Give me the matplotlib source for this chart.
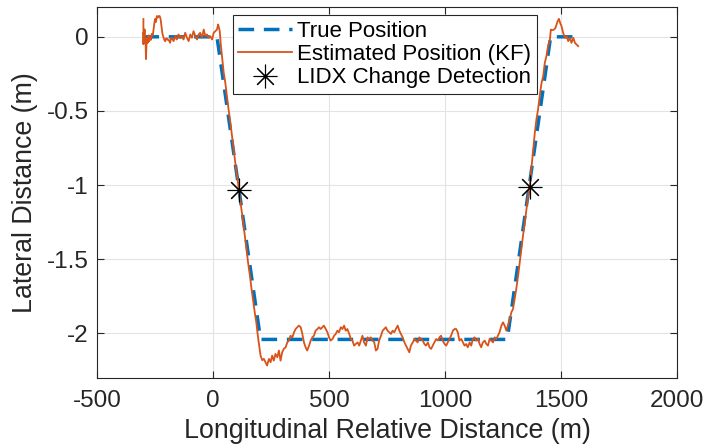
import matplotlib
matplotlib.use("Agg")
import matplotlib.pyplot as plt

plt.rcParams['font.family'] = ['Liberation Sans', 'DejaVu Sans']
plt.rcParams['axes.unicode_minus'] = False

# reference lane-change trajectory
true_x = [-300, 17, 205, 1268, 1455, 1574]
true_y = [0, 0, -2.04, -2.04, 0, 0]

# Kalman filter estimate
est_x = [-300, -300, -299, -297, -295, -293, -291, -289, -287, -284, -281, -278, -275, -271,
         -267, -264, -260, -257, -253, -250, -246, -242, -238, -234, -230, -226, -222, -218,
         -214, -210, -206, -202, -199, -195, -192, -188, -185, -181, -178, -170, -163, -156,
         -149, -141, -134, -127, -120, -112, -105, -98, -91, -84, -76, -69, -62, -55, -48,
         -40, -33, -26, -19, -12, -4, 3, 10, 17, 22, 26, 29, 34, 40, 46, 53, 60, 67, 75, 82,
         89, 95, 100, 106, 111, 117, 122, 130, 137, 144, 151, 159, 166, 174, 181, 187, 192,
         197, 205, 212, 219, 226, 233, 241, 248, 255, 262, 269, 277, 284, 291, 298, 305, 313,
         320, 327, 334, 342, 349, 356, 363, 370, 378, 385, 392, 399, 406, 414, 421, 428, 435,
         442, 450, 457, 464, 471, 478, 486, 493, 500, 507, 515, 522, 529, 536, 543, 551, 558,
         565, 572, 579, 587, 594, 601, 608, 615, 623, 630, 637, 644, 651, 659, 666, 673, 680,
         688, 695, 702, 709, 716, 724, 731, 738, 745, 752, 760, 767, 774, 781, 788, 796, 803,
         810, 817, 825, 832, 839, 846, 853, 861, 868, 875, 882, 889, 897, 904, 911, 918, 926,
         933, 940, 947, 954, 962, 969, 976, 983, 990, 998, 1005, 1012, 1019, 1026, 1034, 1041,
         1048, 1055, 1062, 1070, 1077, 1084, 1091, 1098, 1106, 1113, 1120, 1127, 1135, 1142,
         1149, 1156, 1163, 1171, 1178, 1185, 1192, 1199, 1207, 1214, 1221, 1228, 1235, 1243,
         1250, 1257, 1264, 1271, 1279, 1286, 1293, 1300, 1307, 1315, 1322, 1329, 1336, 1344,
         1351, 1358, 1365, 1372, 1380, 1387, 1394, 1401, 1408, 1416, 1423, 1430, 1437, 1444,
         1452, 1456, 1462, 1470, 1476, 1485, 1491, 1496, 1502, 1509, 1517, 1524, 1531, 1538,
         1545, 1553, 1560, 1567, 1574]
est_y = [0.12, -0.05, 0.03, -0.02, 0.05, -0.04, -0.01, -0.15, -0.06, -0.01, -0.04, 0.01, -0.03,
         0.00, -0.02, 0.02, 0.01, 0.04, 0.09, 0.12, 0.10, 0.14, 0.13, 0.14, 0.14, 0.12, 0.07,
         0.02, 0.00, -0.02, -0.03, -0.01, -0.01, -0.02, -0.02, -0.03, -0.04, -0.01, -0.007,
         -0.029, 0.004, -0.018, 0.016, -0.007, 0.004, -0.018, 0.027, -0.007, -0.029, 0.016,
         -0.007, 0.038, 0.004, -0.018, 0.016, 0.027, -0.007, 0.049, 0.004, 0.016, -0.007,
         0.004, -0.018, 0.027, 0.038, 0.049, 0.083, 0.06, 0.038, -0.06, -0.15, -0.24, -0.31,
         -0.40, -0.49, -0.58, -0.67, -0.76, -0.84, -0.90, -0.96, -1.03, -1.10, -1.16, -1.25,
         -1.34, -1.43, -1.52, -1.61, -1.70, -1.79, -1.87, -1.93, -2.00, -2.06, -2.15, -2.18,
         -2.171, -2.194, -2.216, -2.171, -2.194, -2.149, -2.183, -2.138, -2.16, -2.115,
         -2.183, -2.127, -2.104, -2.093, -2.06, -2.048, -2.015, -2.026, -1.992, -1.97, -1.958,
         -1.947, -1.958, -2.003, -2.06, -2.093, -2.115, -2.082, -2.048, -2.026, -2.015,
         -1.981, -1.97, -1.958, -1.97, -1.958, -1.947, -1.97, -1.992, -2.026, -2.048, -2.037,
         -2.015, -2.003, -1.981, -1.992, -1.958, -1.97, -1.947, -1.981, -1.97, -2.003, -2.037,
         -2.048, -2.082, -2.071, -2.06, -2.082, -2.048, -2.015, -2.060, -2.082, -2.026,
         -2.037, -2.026, -2.048, -2.060, -2.115, -2.104, -2.048, -2.015, -1.981, -1.970,
         -1.958, -1.981, -1.992, -2.003, -1.981, -1.992, -1.970, -1.947, -1.981, -2.003,
         -2.026, -2.060, -2.082, -2.104, -2.127, -2.082, -2.060, -2.037, -2.048, -2.060,
         -2.026, -2.037, -2.048, -2.071, -2.082, -2.060, -2.093, -2.104, -2.082, -2.060,
         -2.037, -2.048, -2.026, -2.015, -2.048, -2.071, -2.082, -2.060, -2.037, -2.015,
         -1.981, -1.970, -1.970, -1.992, -2.048, -2.037, -2.060, -2.082, -2.071, -2.093,
         -2.060, -2.082, -2.037, -2.026, -2.048, -2.037, -2.071, -2.093, -2.060, -2.048,
         -2.071, -2.082, -2.037, -2.048, -2.060, -2.026, -2.037, -2.015, -1.992, -1.947,
         -1.925, -1.947, -1.980, -1.947, -1.902, -1.857, -1.835, -1.768, -1.700, -1.610,
         -1.521, -1.431, -1.341, -1.252, -1.162, -1.072, -1.005, -0.893, -0.758, -0.646,
         -0.556, -0.489, -0.399, -0.310, -0.265, -0.175, -0.130, -0.063, -0.018, 0.049,
         0.045, 0.049, 0.060, 0.105, 0.121, 0.094, 0.072, 0.027, -0.007, 0.004, -0.029,
         -0.007, -0.041, -0.007, -0.041, -0.052, -0.063]

# lane index change detections
det_x = [111, 1365]
det_y = [-1.03, -1.01]

xticks = [-500, 0, 500, 1000, 1500, 2000]
yticks = [-2, -1.5, -1, -0.5, 0]

fig = plt.figure(figsize=(7.06, 4.47), dpi=100)
ax = fig.add_axes([0.1374, 0.1544, 0.8216, 0.8296])

ax.plot(true_x, true_y, color='#0072BD', lw=2.5, ls=(0, (4.5, 2.8)), label='True Position')
ax.plot(est_x, est_y, color='#D95319', lw=1.3, label='Estimated Position (KF)')
ax.plot(det_x, det_y, ls='none', marker=(8, 2, 0), ms=17, mew=0.8, color='black',
        label='LIDX Change Detection')

ax.set_xlim(-500, 2000)
ax.set_ylim(-2.3, 0.2)
ax.set_xticks(xticks)
ax.set_xticklabels([str(v) for v in xticks])
ax.set_yticks(yticks)
ax.set_yticklabels(['-2', '-1.5', '-1', '-0.5', '0'])

ax.grid(True, color='#e3e3e3', lw=0.8)
ax.set_axisbelow(True)
for s in ax.spines.values():
    s.set_color('#262626')
    s.set_linewidth(0.8)
ax.tick_params(direction='in', length=5, width=0.8, color='#262626', labelsize=17.5,
               labelcolor='#262626', top=True, right=True, pad=6)
ax.tick_params(axis='x', pad=9)

ax.set_xlabel('Longitudinal Relative Distance (m)', fontsize=19.3, color='#262626', labelpad=4)
ax.set_ylabel('Lateral Distance (m)', fontsize=19.3, color='#262626', labelpad=6.5)

leg = ax.legend(loc='upper left', bbox_to_anchor=(0.234, 0.978), borderaxespad=0,
                fontsize=16.0, handlelength=2.4, handletextpad=0.25, borderpad=0.25,
                labelspacing=0.1, fancybox=False, framealpha=1, edgecolor='#262626')
leg.get_frame().set_linewidth(0.8)

fig.savefig('out.png', dpi=100)
